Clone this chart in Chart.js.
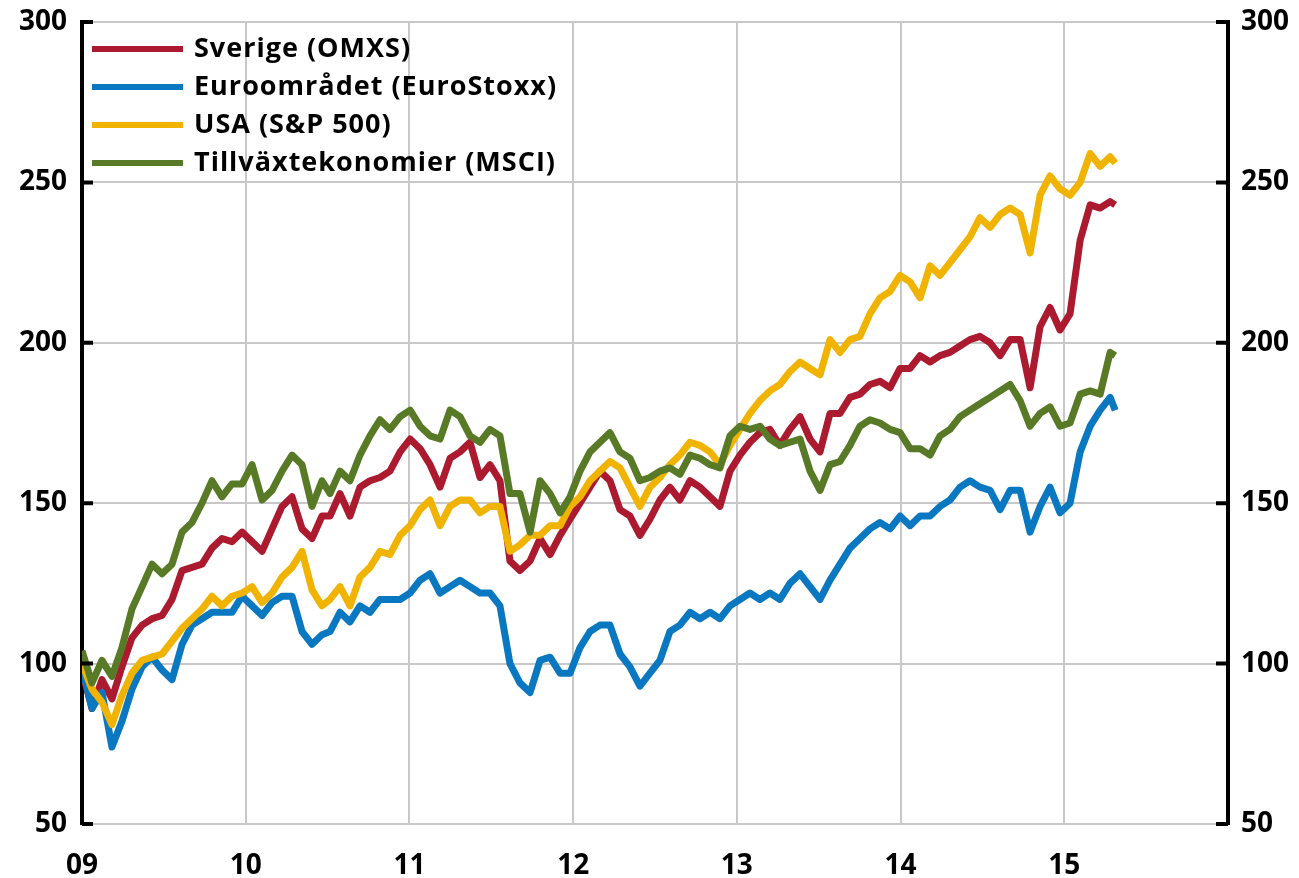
<!DOCTYPE html>
<html>
<head>
<meta charset="utf-8">
<script src="https://cdn.jsdelivr.net/npm/chart.js@4.4.1/dist/chart.umd.min.js"></script>
<style>
  html, body { margin: 0; padding: 0; background: #fff; }
  #wrap { width: 1299px; height: 878px; }
</style>
</head>
<body>
<div id="wrap"><canvas id="chart"></canvas></div>
<script>
// dates as years since 2000 (9 = start of 2009)
const dates = [
  9.000, 9.061, 9.122, 9.183, 9.244, 9.305, 9.367, 9.428, 9.489, 9.550, 9.611, 9.672, 9.733, 9.794, 9.855, 9.916, 9.978, 10.039, 10.100, 10.161, 10.222, 10.283, 10.344, 10.405, 10.466,
  10.515, 10.576, 10.637, 10.698, 10.759, 10.820, 10.881, 10.943, 11.004, 11.065, 11.126, 11.187, 11.248, 11.309, 11.370, 11.431, 11.492, 11.553, 11.614, 11.675, 11.737, 11.798, 11.859, 11.920,
  11.981, 12.042, 12.103, 12.164, 12.225, 12.286, 12.347, 12.408, 12.469, 12.530, 12.591, 12.652, 12.714, 12.775, 12.836, 12.897, 12.958, 13.019, 13.080, 13.141, 13.202, 13.263, 13.324, 13.386,
  13.447, 13.508, 13.569, 13.630, 13.691, 13.752, 13.813, 13.874, 13.936, 13.997, 14.058, 14.119, 14.180, 14.241, 14.302, 14.363, 14.424, 14.485, 14.547, 14.608,
  14.669, 14.730, 14.791, 14.852, 14.913, 14.974, 15.035, 15.097, 15.158, 15.219, 15.280, 15.311
];

const sverige = [
  98, 86, 95, 89, 99, 108, 112, 114, 115, 120, 129, 130, 131, 136, 139, 138, 141, 138, 135, 142, 149, 152, 142, 139, 146,
  146, 153, 146, 155, 157, 158, 160, 166, 170, 167, 162, 155, 164, 166, 169, 158, 162, 157, 132, 129, 132, 139, 134, 140,
  145, 150, 155, 160, 157, 148, 146, 140, 145, 151, 155, 151, 157, 155, 152, 149, 160, 165, 169, 172, 173, 168, 173, 177,
  170, 166, 178, 178, 183, 184, 187, 188, 186, 192, 192, 196, 194, 196, 197, 199, 201, 202, 200, 196,
  201, 201, 186, 205, 211, 204, 209, 232, 243, 242, 244, 243
];

const euro = [
  99, 86, 91, 74, 82, 92, 99, 102, 98, 95, 106, 112, 114, 116, 116, 116, 121, 118, 115, 119, 121, 121, 110, 106, 109,
  110, 116, 113, 118, 116, 120, 120, 120, 122, 126, 128, 122, 124, 126, 124, 122, 122, 118, 100, 94, 91, 101, 102, 97,
  97, 105, 110, 112, 112, 103, 99, 93, 97, 101, 110, 112, 116, 114, 116, 114, 118, 120, 122, 120, 122, 120, 125, 128,
  124, 120, 126, 131, 136, 139, 142, 144, 142, 146, 143, 146, 146, 149, 151, 155, 157, 155, 154, 148,
  154, 154, 141, 149, 155, 147, 150, 166, 174, 179, 183, 179
];

const usa = [
  100, 92, 88, 81, 90, 97, 101, 102, 103, 107, 111, 114, 117, 121, 118, 121, 122, 124, 119, 122, 127, 130, 135, 123, 118,
  120, 124, 118, 127, 130, 135, 134, 140, 143, 148, 151, 143, 149, 151, 151, 147, 149, 149, 135, 137, 140, 140, 143, 143,
  149, 152, 157, 160, 163, 161, 155, 149, 155, 158, 162, 165, 169, 168, 166, 162, 168, 173, 178, 182, 185, 187, 191, 194,
  192, 190, 201, 197, 201, 202, 209, 214, 216, 221, 219, 214, 224, 221, 225, 229, 233, 239, 236, 240,
  242, 240, 228, 246, 252, 248, 246, 250, 259, 255, 258, 256
];

const tillvaxt = [
  104, 94, 101, 96, 105, 117, 124, 131, 128, 131, 141, 144, 150, 157, 152, 156, 156, 162, 151, 154, 160, 165, 162, 149, 157,
  153, 160, 157, 165, 171, 176, 173, 177, 179, 174, 171, 170, 179, 177, 171, 169, 173, 171, 153, 153, 141, 157, 153, 147,
  152, 160, 166, 169, 172, 166, 164, 157, 158, 160, 161, 159, 165, 164, 162, 161, 171, 174, 173, 174, 170, 168, 169, 170,
  160, 154, 162, 163, 168, 174, 176, 175, 173, 172, 167, 167, 165, 171, 173, 177, 179, 181, 183, 185,
  187, 182, 174, 178, 180, 174, 175, 184, 185, 184, 197, 196
];

const seriesNames = ["Sverige (OMXS)", "Euroområdet (EuroStoxx)", "USA (S&P 500)", "Tillväxtekonomier (MSCI)"];
const seriesColors = ["#ac1a2f", "#0a78c0", "#f0b400", "#587a27"];
const yTicks = [50, 100, 150, 200, 250, 300];

const FONT = "'Open Sans', 'Noto Sans', sans-serif";

function pairs(vals) {
  return vals.map((v, i) => ({ x: dates[i], y: v }));
}

const allSeries = [sverige, euro, usa, tillvaxt];
const datasets = allSeries.map((vals, i) => ({
  label: seriesNames[i],
  data: pairs(vals),
  borderColor: seriesColors[i],
  backgroundColor: seriesColors[i],
  borderWidth: 7,
  pointRadius: 0,
  tension: 0,
  borderJoinStyle: "round",
  order: 4 - i
}));

// inner tick marks and legend inside the plot
const extras = {
  id: "extras",
  afterDraw(chart) {
    const ctx = chart.ctx;
    const a = chart.chartArea;
    const y = chart.scales.y;
    ctx.save();
    ctx.strokeStyle = "#000";
    ctx.lineWidth = 4;
    yTicks.forEach(v => {
      const py = y.getPixelForValue(v);
      ctx.beginPath();
      ctx.moveTo(a.left, py);
      ctx.lineTo(a.left + 11, py);
      ctx.moveTo(a.right - 12, py);
      ctx.lineTo(a.right, py);
      ctx.stroke();
    });

    ctx.font = "bold 27px " + FONT;
    ctx.letterSpacing = "1px";
    ctx.textBaseline = "middle";
    ctx.fillStyle = "#000";
    seriesNames.forEach((name, i) => {
      const ly = a.top + 27 + i * 38;
      ctx.strokeStyle = seriesColors[i];
      ctx.lineWidth = 6;
      ctx.beginPath();
      ctx.moveTo(a.left + 10, ly);
      ctx.lineTo(a.left + 101, ly);
      ctx.stroke();
      ctx.fillText(name, a.left + 112, ly);
    });
    ctx.restore();
  }
};

const tickFont = { family: FONT, size: 28, weight: "bold", lineHeight: 1 };

function fixWidth(w) {
  return function (s) {
    s.width = w;
    s.paddingTop = 0;
    s.paddingBottom = 0;
  };
}

new Chart(document.getElementById("chart"), {
  type: "line",
  data: { datasets: datasets },
  options: {
    responsive: true,
    maintainAspectRatio: false,
    animation: false,
    layout: { padding: { top: 22, left: 0, right: 0, bottom: 0 } },
    plugins: { legend: { display: false }, tooltip: { enabled: false } },
    scales: {
      x: {
        type: "linear",
        min: 9,
        max: 16,
        ticks: {
          stepSize: 1,
          color: "#000",
          font: tickFont,
          padding: 28,
          maxRotation: 0,
          callback: v => (v >= 16 ? "" : String(v).padStart(2, "0"))
        },
        grid: { color: "#c8c8c8", lineWidth: 2, drawTicks: false },
        border: { display: false },
        afterFit(s) {
          s.height = 54;
          s.paddingLeft = 0;
          s.paddingRight = 0;
        }
      },
      y: {
        position: "left",
        min: 50,
        max: 300,
        ticks: { stepSize: 50, color: "#000", font: tickFont, padding: 15 },
        grid: { color: "#c8c8c8", lineWidth: 2, drawTicks: false },
        border: { display: true, color: "#000", width: 4 },
        afterFit: fixWidth(82)
      },
      y2: {
        position: "right",
        min: 50,
        max: 300,
        ticks: { stepSize: 50, color: "#000", font: tickFont, padding: 13 },
        grid: { display: false, drawTicks: false },
        border: { display: true, color: "#000", width: 4 },
        afterFit: fixWidth(71)
      }
    }
  },
  plugins: [extras]
});
</script>
</body>
</html>
